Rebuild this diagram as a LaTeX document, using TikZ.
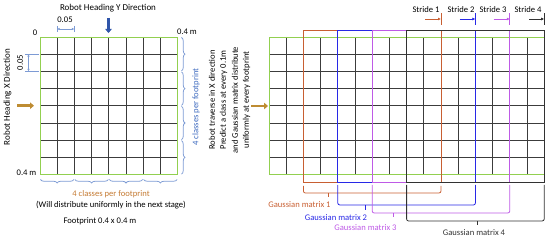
\documentclass[tikz,border=0pt]{standalone}
\usepackage{fontspec}
\setmainfont{Carlito}
\usetikzlibrary{decorations.pathreplacing,arrows.meta}
\definecolor{gridc}{RGB}{60,60,60}
\definecolor{greenc}{RGB}{146,208,80}
\definecolor{lblue}{RGB}{125,155,212}
\definecolor{tblue}{RGB}{60,105,190}
\definecolor{torange}{RGB}{196,122,50}
\definecolor{arrorange}{RGB}{190,140,50}
\definecolor{ydir}{RGB}{47,85,170}
\definecolor{cone}{RGB}{200,95,50}
\definecolor{ctwo}{RGB}{40,40,230}
\definecolor{cthree}{RGB}{190,90,230}
\definecolor{cfour}{RGB}{50,50,50}
\tikzset{
  gridline/.style={draw=gridc,line width=0.85pt},
  greenbox/.style={draw=greenc,line width=0.9pt},
  lbl/.style={inner sep=0pt,font=\fontsize{8.6}{10}\selectfont},
  rlbl/.style={lbl,rotate=90},
  fatarrow/.style={line width=2.6pt,-{Triangle[length=4pt,width=6.5pt]}},
  dimline/.style={draw=lblue,line width=0.6pt},
  bracebox/.style={draw=lblue,line width=0.75pt,decorate,decoration={brace,amplitude=3.5pt}},
  frame/.style={line width=0.9pt},
  bracket/.style={line width=0.8pt,rounded corners=2pt},
  stridearrow/.style={line width=0.7pt,-{Latex[length=3pt,width=3pt]}}
}
\begin{document}
\begin{tikzpicture}[x=1pt,y=-1pt]
\useasboundingbox (0,0) rectangle (550,240);

% ---------- left grid ----------
\foreach \i in {1,...,7} {
  \draw[gridline] (40+\i*17.2,37) -- (40+\i*17.2,174.6);
  \draw[gridline] (40,37+\i*17.2) -- (177.6,37+\i*17.2);
}
\draw[greenbox] (40,37) rectangle (177.6,174.6);

% ---------- right grid ----------
\foreach \i in {1,...,15} {
  \draw[gridline] (269+\i*17.2,37) -- (269+\i*17.2,174.6);
}
\foreach \i in {1,...,7} {
  \draw[gridline] (269,37+\i*17.2) -- (544.2,37+\i*17.2);
}
\draw[greenbox] (269,37) rectangle (544.2,174.6);

% ---------- gaussian frames ----------
\draw[frame,draw=cone]   (303.4,30) rectangle (441,182);
\draw[frame,draw=ctwo]   (337.8,30) rectangle (475.4,182);
\draw[frame,draw=cthree] (372.2,30) rectangle (509.8,182);
\draw[frame,draw=cfour]  (406.6,30) rectangle (544.2,182);

% ---------- brackets under right grid ----------
\draw[bracket,draw=cone] (303.4,186) -- (303.4,193) -- (441,193) -- (441,186);
\draw[bracket,draw=cone] (328,193) -- (328,197);
\draw[bracket,draw=ctwo] (337.8,185) -- (337.8,205) -- (475.4,205) -- (475.4,185);
\draw[bracket,draw=ctwo] (365,205) -- (365,210);
\draw[bracket,draw=cthree] (372.2,185) -- (372.2,213) -- (509.8,213) -- (509.8,185);
\draw[bracket,draw=cthree] (393,213) -- (393,217);
\draw[bracket,draw=cfour] (406.6,185) -- (406.6,221) -- (544.2,221) -- (544.2,185);
\draw[bracket,draw=cfour] (477,221) -- (477,225);

\node[lbl,text=cone]   (g1) at (299.5,205) {Gaussian matrix 1};
\node[lbl,text=ctwo]   (g2) at (336,218) {Gaussian matrix 2};
\node[lbl,text=cthree] (g3) at (365.5,228) {Gaussian matrix 3};
\node[lbl,text=cfour]  (g4) at (474,233) {Gaussian matrix 4};

% ---------- strides ----------
\node[lbl] (s1) at (426,10) {Stride 1};
\node[lbl] (s2) at (461,10) {Stride 2};
\node[lbl] (s3) at (493,10) {Stride 3};
\node[lbl] (s4) at (528,10) {Stride 4};
\coordinate (s1a) at (425,19); \coordinate (s1b) at (441,19);
\coordinate (s2a) at (459.5,19); \coordinate (s2b) at (475.4,19);
\coordinate (s3a) at (493.5,19); \coordinate (s3b) at (509.8,19);
\coordinate (s4a) at (529,19); \coordinate (s4b) at (544.2,19);
\draw[stridearrow,draw=cone] (s1a) -- (s1b);
\draw[stridearrow,draw=ctwo] (s2a) -- (s2b);
\draw[stridearrow,draw=cthree] (s3a) -- (s3b);
\draw[stridearrow,draw=cfour] (s4a) -- (s4b);
\draw[line width=0.7pt,draw=cone] (441,13.5) -- (441,25);
\draw[line width=0.7pt,draw=ctwo] (475.4,13.5) -- (475.4,25);
\draw[line width=0.7pt,draw=cthree] (509.8,13.5) -- (509.8,25);
\draw[line width=0.7pt,draw=cfour] (544.2,13.5) -- (544.2,25);

% ---------- left-grid braces ----------
\foreach \k in {0,...,3} {
  \draw[bracebox] (181.5,37.5+\k*34.4) -- (181.5,36.5+\k*34.4+34.4);
  \draw[bracebox,decoration={mirror}] (40.5+\k*34.4,179.5) -- (39.5+\k*34.4+34.4,179.5);
}

% ---------- dimension marks ----------
\draw[dimline] (57.2,26) -- (57.2,32.5);
\draw[dimline] (74.4,26) -- (74.4,32.5);
\coordinate (dta) at (57.2,29); \coordinate (dtb) at (74.4,29);
\draw[dimline,{Latex[length=2.5pt,width=2.5pt]}-{Latex[length=2.5pt,width=2.5pt]}] (dta) -- (dtb);
\draw[dimline] (25,54.2) -- (39,54.2);
\draw[dimline] (25,71.4) -- (39,71.4);
\coordinate (dla) at (28.5,54.2); \coordinate (dlb) at (28.5,71.4);
\draw[dimline,{Latex[length=2.5pt,width=2.5pt]}-{Latex[length=2.5pt,width=2.5pt]}] (dla) -- (dlb);

% ---------- direction arrows ----------
\coordinate (ya) at (108.5,18); \coordinate (yb) at (108.5,33);
\draw[fatarrow,draw=ydir,color=ydir] (ya) -- (yb);
\coordinate (xa) at (17,105.7); \coordinate (xb) at (34,105.7);
\draw[fatarrow,draw=arrorange,color=arrorange] (xa) -- (xb);
\coordinate (xc) at (251,106); \coordinate (xd) at (268,106);
\draw[fatarrow,draw=arrorange,color=arrorange] (xc) -- (xd);

% ---------- texts ----------
\node[lbl,font=\fontsize{9}{10}\selectfont] (title) at (108,8) {Robot Heading Y Direction};
\node[lbl] (d1) at (65,20) {0.05};
\node[lbl] (zero) at (35,33) {0};
\node[lbl] (t04a) at (187,32) {0.4 m};
\node[lbl] (t04b) at (26.5,172.5) {0.4 m};
\node[rlbl] (d2) at (20,62.5) {0.05};
\node[rlbl,font=\fontsize{9}{10}\selectfont] (xdir) at (7.5,97) {Robot Heading X Direction};
\node[rlbl,text=tblue] (c4r) at (196,107) {4 classes per footprint};
\node[rlbl] (r1) at (212,100) {Robot traverse in X direction};
\node[rlbl] (r2) at (223.5,100) {Predict a class at every 0.1m};
\node[rlbl] (r3) at (235,100) {and Gaussian matrix distribute};
\node[rlbl] (r4) at (246.5,100) {uniformly at every footprint};
\node[lbl,text=torange] (c4b) at (111,194) {4 classes per footprint};
\node[lbl] (will) at (111,205.5) {(Will distribute uniformly in the next stage)};
\node[lbl] (fp) at (100,221.5) {Footprint 0.4 x 0.4 m};
\end{tikzpicture}
\end{document}
